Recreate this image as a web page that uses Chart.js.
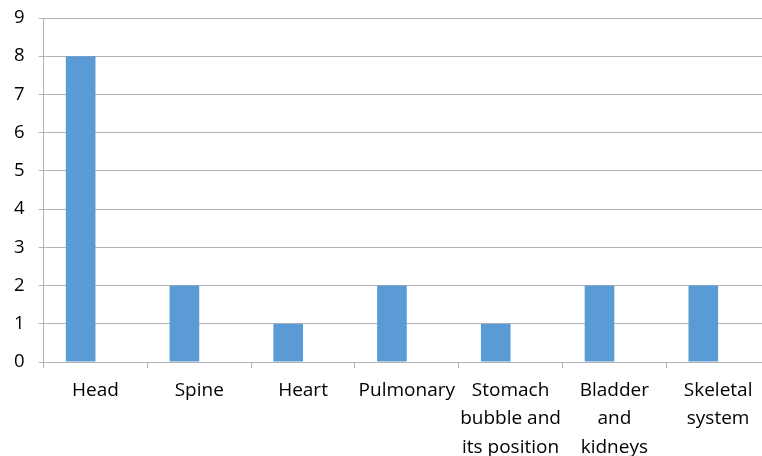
<!DOCTYPE html>
<html>
<head>
<meta charset="utf-8">
<script src="https://cdn.jsdelivr.net/npm/chart.js@4"></script>
<style>
  html, body { margin: 0; padding: 0; background: #fff; overflow: hidden; }
</style>
</head>
<body>
<canvas id="chart" width="770" height="456"></canvas>
<script>
// categories (multi-line labels as in the original)
const categories = [
  'Head',
  'Spine',
  'Heart',
  'Pulmonary',
  ['Stomach', 'bubble and', 'its position'],
  ['Bladder', 'and', 'kidneys'],
  ['Skeletal', 'system']
];
const counts = [8, 2, 1, 2, 1, 2, 2];
// second (empty) series, keeps the bars on the left half of each slot
const emptySeries = [null, null, null, null, null, null, null];
const yTicks = [0, 1, 2, 3, 4, 5, 6, 7, 8, 9];

const gridGray = '#b4b4b4';
const fontFam = '"Open Sans", "Liberation Sans", sans-serif';

new Chart(document.getElementById('chart'), {
  type: 'bar',
  data: {
    labels: categories,
    datasets: [
      {
        label: 'Count',
        data: counts,
        backgroundColor: '#5b9bd5',
        borderWidth: 0,
        categoryPercentage: 2 / 3.5,
        barPercentage: 1
      },
      {
        label: '',
        data: emptySeries,
        backgroundColor: '#ed7d31',
        categoryPercentage: 2 / 3.5,
        barPercentage: 1
      }
    ]
  },
  options: {
    responsive: false,
    animation: false,
    layout: { padding: { top: 18, left: 0, right: 0, bottom: 0 } },
    plugins: {
      legend: { display: false },
      tooltip: { enabled: false }
    },
    scales: {
      x: {
        afterFit: (scale) => { scale.height = 94; },
        grid: {
          display: true,
          drawOnChartArea: false,
          drawTicks: true,
          tickLength: 6,
          color: gridGray,
          offset: true
        },
        border: { display: true, color: gridGray, width: 1 },
        ticks: {
          color: '#000',
          maxRotation: 0,
          autoSkip: false,
          padding: 8,
          font: { family: fontFam, size: 19, lineHeight: 1.5 }
        }
      },
      y: {
        min: yTicks[0],
        max: yTicks[yTicks.length - 1],
        afterBuildTicks: (axis) => { axis.ticks = yTicks.map(v => ({ value: v })); },
        afterFit: (scale) => { scale.paddingTop = 0; scale.paddingBottom = 0; },
        grid: { color: gridGray, tickLength: 5, lineWidth: 1 },
        border: { display: true, color: gridGray, width: 1 },
        ticks: {
          color: '#000',
          padding: 14,
          font: { family: fontFam, size: 18.5 }
        }
      }
    }
  }
});
</script>
</body>
</html>
